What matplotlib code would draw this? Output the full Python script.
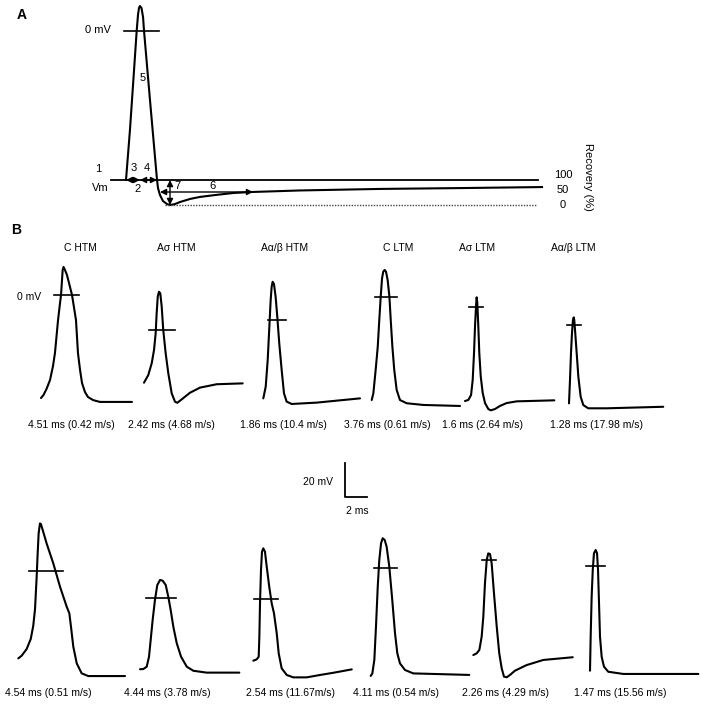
import matplotlib
matplotlib.use("Agg")
import matplotlib.pyplot as plt

plt.rcParams['font.family'] = ['Liberation Sans', 'DejaVu Sans']

# ---------------- scale ----------------
PX_PER_MS = 11.0   # 2 ms  = 22 px
PX_PER_MV = 1.7    # 20 mV = 34 px

# ---------------- DATA ----------------
# Panel A: schematic action potential (time in ms from onset, Vm in mV rel. to 0 mV)
tA = [0, 0.36, 0.67, 0.97, 1.09, 1.18, 1.27, 1.41, 1.55, 1.64, 2.18, 2.5, 2.82, 2.91,
      3.09, 3.36, 3.73, 4.0, 4.45, 4.91, 5.82, 6.73, 8.09, 9.73, 11.45, 15.82, 23.09,
      30.36, 37.82]
vA = [-87.6, -58.2, -28.8, 0, 9.4, 13.5, 14.7, 13.5, 8.2, 0, -40.6, -64.1, -87.6, -92.4,
      -96.5, -100.0, -101.8, -102.4, -101.8, -100.6, -98.8, -97.6, -96.5, -95.3, -94.7,
      -93.8, -92.9, -92.4, -91.8]
recovery_ticks = ["100", "50", "0"]
panelA_numbers = ["1", "2", "3", "4", "5", "6", "7"]

# Panel B, top row
row1_titles = ["C HTM", "Aσ HTM", "Aα/β HTM", "C LTM", "Aσ LTM", "Aα/β LTM"]
row1_labels = ["4.51 ms (0.42 m/s)", "2.42 ms (4.68 m/s)", "1.86 ms (10.4 m/s)",
               "3.76 ms (0.61 m/s)", "1.6 ms (2.64 m/s)", "1.28 ms (17.98 m/s)"]

t_c_htm = [0, 0.23, 0.5, 0.82, 1.09, 1.27, 1.55, 1.73, 1.82, 1.91, 1.97, 2.05, 2.18, 2.36,
           2.82, 3.18, 3.36, 3.55, 3.73, 4.0, 4.27, 4.73, 5.36, 8.27]
v_c_htm = [-60.6, -58.8, -55.3, -50.0, -41.8, -34.1, -14.7, -4.7, 0, 8.8, 14.7, 16.5, 14.7, 11.8,
           0, -14.7, -34.1, -44.1, -51.8, -57.1, -60.0, -61.8, -62.9, -62.9]

t_as_htm = [0, 0.39, 0.70, 0.91, 1.06, 1.15, 1.25, 1.36, 1.48, 1.61, 1.75, 1.97, 2.21, 2.52,
            2.82, 3.03, 3.43, 4.18, 5.09, 6.61, 8.97]
v_as_htm = [-31.0, -26.5, -19.6, -11.8, -2.0, 9.8, 19.6, 22.5, 21.6, 13.7, 0, -13.7, -25.5, -37.3,
            -42.2, -42.8, -40.8, -36.9, -33.9, -31.9, -31.4]

t_ab_htm = [0, 0.22, 0.4, 0.55, 0.67, 0.76, 0.85, 0.97, 1.12, 1.27, 1.45, 1.67, 1.88, 2.12,
            2.58, 4.85, 8.79]
v_ab_htm = [-46.1, -39.2, -23.5, -3.9, 11.8, 19.6, 22.5, 21.2, 13.7, 2.0, -13.7, -29.4, -43.1, -48.0,
            -49.4, -48.6, -46.1]

t_c_ltm = [0, 0.15, 0.36, 0.55, 0.69, 0.82, 0.94, 1.05, 1.18, 1.3, 1.45, 1.61, 1.73, 1.88,
           2.05, 2.27, 2.57, 3.18, 4.69, 8.03]
v_c_ltm = [-60.6, -56.7, -42.9, -29.2, -13.5, 0.2, 11.0, 14.9, 15.9, 14.9, 10.0, 0.2, -13.5, -29.2,
           -42.9, -54.7, -60.6, -62.5, -63.5, -64.1]

t_as_ltm = [0, 0.3, 0.55, 0.7, 0.82, 0.91, 1.0, 1.06, 1.12, 1.21, 1.3, 1.43, 1.61, 1.82,
            2.12, 2.34, 2.73, 3.18, 3.79, 4.7, 8.12]
v_as_ltm = [-55.3, -54.7, -51.8, -42.9, -27.1, -11.4, 0.2, 5.7, 2.2, -11.4, -27.1, -40.8, -50.6, -56.5,
            -60.0, -60.8, -60.0, -58.2, -56.5, -55.5, -54.9]

t_ab_ltm = [0, 0.09, 0.18, 0.27, 0.36, 0.43, 0.48, 0.57, 0.7, 0.85, 1.06, 1.3, 1.75, 3.43, 8.57]
v_ab_ltm = [-46.1, -32.4, -16.7, -4.9, 2.9, 4.5, 2.9, -4.9, -16.7, -30.4, -42.2, -47.1, -49.0, -49.0, -48.1]

# Panel B, bottom row
row2_labels = ["4.54 ms (0.51 m/s)", "4.44 ms (3.78 m/s)", "2.54 ms (11.67m/s)",
               "4.11 ms (0.54 m/s)", "2.26 ms (4.29 m/s)", "1.47 ms (15.56 m/s)"]

t_b1 = [0, 0.31, 0.76, 1.13, 1.36, 1.52, 1.67, 1.76, 1.85, 1.97, 2.06, 2.58, 3.18, 3.79,
        4.4, 4.64, 4.79, 5.0, 5.31, 5.76, 6.36, 9.7]
v_b1 = [-51.4, -49.8, -45.9, -40.0, -32.2, -22.4, -3.4, 10.4, 22.2, 28.0, 27.6, 16.1, 4.5, -9.2,
        -21.0, -24.9, -32.8, -44.5, -54.3, -60.2, -61.8, -61.8]

t_b2 = [0, 0.3, 0.61, 0.82, 0.97, 1.15, 1.36, 1.57, 1.82, 2.06, 2.34, 2.57, 2.79, 3.03,
        3.34, 3.73, 4.25, 4.85, 6.06, 9.03]
v_b2 = [-41.9, -41.8, -40.4, -34.5, -24.7, -12.9, -1.2, 7.6, 10.6, 10.2, 7.6, 0.8, -7.1, -16.9,
        -26.6, -34.5, -40.4, -42.8, -43.9, -43.9]

t_b3 = [0, 0.31, 0.49, 0.55, 0.61, 0.7, 0.79, 0.91, 1.06, 1.22, 1.45, 1.67, 1.88, 2.13,
        2.31, 2.58, 3.04, 3.64, 4.85, 6.06, 7.27, 8.95]
v_b3 = [-36.3, -35.5, -34.0, -22.2, -2.5, 17.1, 27.8, 29.8, 27.8, 19.0, 7.2, -2.5, -8.4, -20.2,
        -32.0, -40.8, -44.7, -46.1, -46.1, -44.7, -43.4, -41.4]

t_b4 = [0, 0.15, 0.33, 0.48, 0.64, 0.78, 0.94, 1.09, 1.27, 1.45, 1.69, 1.96, 2.21, 2.42,
        2.66, 3.12, 3.87, 8.96]
v_b4 = [-63.5, -62.0, -54.1, -34.5, -11.0, 4.7, 14.5, 17.5, 16.5, 12.5, 0.8, -18.8, -38.4, -50.2,
        -56.1, -60.0, -62.0, -62.9]

t_b5 = [0, 0.31, 0.55, 0.76, 0.91, 1.06, 1.22, 1.36, 1.52, 1.67, 1.88, 2.13, 2.36, 2.58,
        2.79, 3.04, 3.34, 3.79, 4.85, 6.36, 9.04]
v_b5 = [-55.9, -54.9, -52.9, -45.1, -33.4, -13.7, 0, 3.9, 3.5, -2.0, -19.6, -39.2, -54.9, -63.7,
        -68.6, -69.0, -67.6, -65.1, -61.8, -58.8, -57.2]

t_b6 = [0, 0.06, 0.15, 0.25, 0.36, 0.52, 0.64, 0.73, 0.82, 0.91, 1.06, 1.27, 1.66, 3.03, 9.85]
v_b6 = [-61.6, -41.6, -18.1, -2.4, 7.5, 9.4, 7.5, -2.4, -22.0, -41.6, -53.4, -59.2, -62.2, -63.5, -63.5]

# 0 mV marker extents (ms, relative to trace onset)
row1_zero_marks = [(1.18, 3.45), (0.45, 2.82), (0.43, 2.06), (0.3, 2.3), (0.36, 1.64), (-0.18, 1.09)]
row2_zero_marks = [(0.97, 4.06), (0.55, 3.27), (0.06, 2.25), (0.3, 2.39), (0.79, 2.06), (-0.36, 1.36)]

row1_traces = [(t_c_htm, v_c_htm), (t_as_htm, v_as_htm), (t_ab_htm, v_ab_htm),
               (t_c_ltm, v_c_ltm), (t_as_ltm, v_as_ltm), (t_ab_ltm, v_ab_ltm)]
row2_traces = [(t_b1, v_b1), (t_b2, v_b2), (t_b3, v_b3),
               (t_b4, v_b4), (t_b5, v_b5), (t_b6, v_b6)]

# ---------------- LAYOUT (pixel positions) ----------------
row1_origins = [(41, 295), (144, 330), (263.3, 320), (371.7, 297), (465, 307), (569, 325)]
row2_origins = [(18.3, 571), (140, 598), (253.3, 599), (370.7, 568), (473.3, 560), (590, 566)]
row1_title_x = [80, 176, 285, 398, 477, 573]
row1_label_x = [71, 171, 283, 387, 482, 597]
row2_label_x = [48, 167, 290, 396, 506, 620]

W, H = 703, 704
fig = plt.figure(figsize=(W / 100, H / 100), dpi=100)
ax = fig.add_axes([0, 0, 1, 1])
ax.set_xlim(0, W)
ax.set_ylim(H, 0)
ax.axis('off')

LW = 1.5
FS = 7.5


def to_px(origin, t, v):
    x0, y0 = origin
    return [x0 + ti * PX_PER_MS for ti in t], [y0 - vi * PX_PER_MV for vi in v]


def draw_trace(origin, t, v, mark):
    xs, ys = to_px(origin, t, v)
    ax.plot(xs, ys, color='black', lw=LW, solid_joinstyle='round', solid_capstyle='round')
    mx, _ = to_px(origin, list(mark), [0, 0])
    ax.plot(mx, [origin[1], origin[1]], color='black', lw=1.2)


# ---------------- Panel A ----------------
oA = (126, 31)
xs, ys = to_px(oA, tA, vA)
ax.plot(xs, ys, color='black', lw=LW, solid_joinstyle='round')
# 0 mV marker
mx, _ = to_px(oA, [-0.18, 3.0], [0, 0])
ax.plot(mx, [31, 31], color='black', lw=1.2)
# baseline (100 %) and 0 % dotted line
bx, _ = to_px(oA, [-1.36, 37.45], [0, 0])
ax.plot(bx, [180, 180], color='black', lw=1.3)
dx, _ = to_px(oA, [3.55, 37.36], [0, 0])
ax.plot(dx, [205, 205], color='#444444', lw=1.0, ls=(0, (1, 1)))


def arrow(p1, p2):
    ax.annotate('', xy=p2, xytext=p1,
                arrowprops=dict(arrowstyle='<|-|>', color='black', lw=1.0,
                                mutation_scale=9, shrinkA=0, shrinkB=0))


arrow((126, 180), (140, 180))
arrow((140, 180), (157, 180))
arrow((170, 180), (170, 205))
arrow((160, 192), (253, 192))

ax.text(22, 15, "A", fontsize=10, fontweight='bold', ha='center', va='center')
ax.text(111, 30, "0 mV", fontsize=8, ha='right', va='center')
numpos = {"1": (98, 169), "2": (138, 189), "3": (134, 168), "4": (147, 168),
          "5": (143, 78), "6": (213, 186), "7": (177, 186)}
for n in panelA_numbers:
    ax.text(*numpos[n], n, fontsize=8, ha='center', va='center')
ax.text(100, 188, "Vm", fontsize=8, ha='center', va='center')
for lab, yy in zip(recovery_ticks, [175, 190, 205]):
    ax.text(563, yy, lab, fontsize=8, ha='center', va='center')
ax.text(588, 177, "Recovery (%)", fontsize=8, rotation=270, ha='center', va='center')

# ---------------- Panel B ----------------
ax.text(16, 230, "B", fontsize=10, fontweight='bold', ha='center', va='center')
ax.text(29, 297, "0 mV", fontsize=FS, ha='center', va='center')

for (t, v), o, mk in zip(row1_traces, row1_origins, row1_zero_marks):
    draw_trace(o, t, v, mk)
for (t, v), o, mk in zip(row2_traces, row2_origins, row2_zero_marks):
    draw_trace(o, t, v, mk)

for s, x in zip(row1_titles, row1_title_x):
    ax.text(x, 248, s, fontsize=FS, ha='center', va='center')
for s, x in zip(row1_labels, row1_label_x):
    ax.text(x, 425, s, fontsize=FS, ha='center', va='center')
for s, x in zip(row2_labels, row2_label_x):
    ax.text(x, 693, s, fontsize=FS, ha='center', va='center')

# scale bar: 20 mV / 2 ms
sx, sy = 345, 497
ax.plot([sx, sx, sx + 2 * PX_PER_MS], [sy - 20 * PX_PER_MV, sy, sy], color='black', lw=1.3)
ax.text(318, 482, "20 mV", fontsize=FS, ha='center', va='center')
ax.text(357, 511, "2 ms", fontsize=FS, ha='center', va='center')

fig.savefig("out.png", dpi=100)
